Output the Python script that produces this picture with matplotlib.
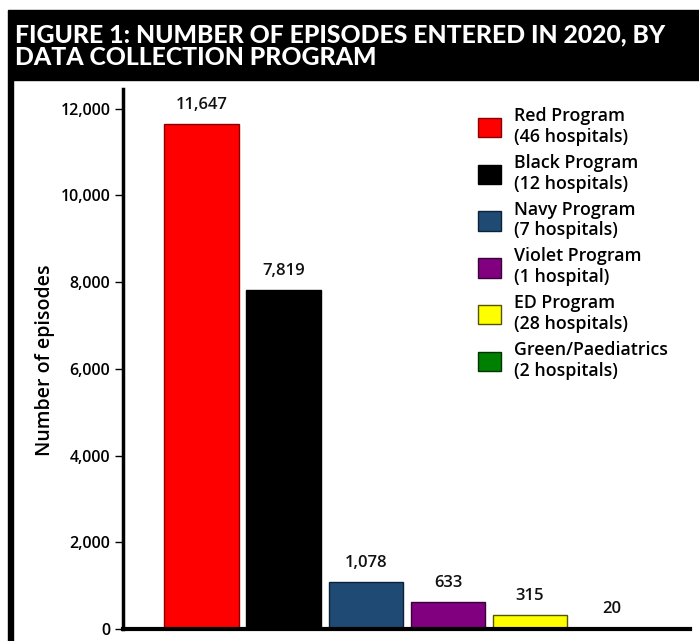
import matplotlib.pyplot as plt
from matplotlib.patches import Rectangle, Patch

programs = ['Red Program', 'Black Program', 'Navy Program', 'Violet Program',
            'ED Program', 'Green/Paediatrics']
hospitals = ['(46 hospitals)', '(12 hospitals)', '(7 hospitals)', '(1 hospital)',
             '(28 hospitals)', '(2 hospitals)']
episodes = [11647, 7819, 1078, 633, 315, 20]
colors = ['#ff0000', '#000000', '#1f4a73', '#800080', '#ffff00', '#008000']
edges = ['#8b0000', '#000000', '#0d2238', '#3a003a', '#555500', '#003300']

plt.rcParams['font.family'] = ['Open Sans', 'DejaVu Sans']
plt.rcParams['font.weight'] = 'semibold'

fig = plt.figure(figsize=(6.99, 6.41), dpi=100)

# title banner and left border
fig.patches.append(Rectangle((8 / 699, 1 - 80 / 641), 1, 70 / 641,
                             transform=fig.transFigure, color='black', zorder=0))
fig.patches.append(Rectangle((8 / 699, 0), 5 / 699, 1 - 80 / 641,
                             transform=fig.transFigure, color='black', zorder=0))
fig.text(15 / 699, 1 - 46 / 641, 'FIGURE 1: NUMBER OF EPISODES ENTERED IN 2020, BY\nDATA COLLECTION PROGRAM',
         color='white', fontsize=17.8, fontweight='black', family=['Lato', 'DejaVu Sans'],
         va='center', ha='left', linespacing=0.95)

ax = fig.add_axes([123 / 699, 12 / 641, (690 - 123) / 699, (629 - 89) / 641])
x = list(range(len(episodes)))
bars = ax.bar(x, episodes, width=0.91, color=colors, edgecolor=edges, linewidth=1)

for xi, v in zip(x, episodes):
    ax.text(xi, v + 250, f'{v:,}', ha='center', va='bottom', fontsize=12, color='#111111')

ax.set_xlim(-0.96, 5.95)
ax.set_ylim(0, 12450)
ax.set_yticks(range(0, 12001, 2000))
ax.set_yticklabels([f'{t:,}' for t in range(0, 12001, 2000)], fontsize=11.5)
ax.set_xticks([])
ax.tick_params(axis='y', length=6, width=1, pad=3)
for side in ['top', 'right']:
    ax.spines[side].set_visible(False)
ax.spines['left'].set_linewidth(2.5)
ax.spines['bottom'].set_linewidth(3)
fig.text(45 / 699, 1 - 360 / 641, 'Number of episodes', rotation=90,
         ha='center', va='center', fontsize=14)

handles = [Patch(facecolor=c, edgecolor=e, linewidth=1) for c, e in zip(colors, edges)]
labels = [f'{p}\n{h}' for p, h in zip(programs, hospitals)]
fig.legend(handles, labels, loc='upper left', bbox_to_anchor=(478 / 699, 1 - 107 / 641),
           frameon=False, fontsize=12.8, handlelength=1.3, handleheight=1.3,
           handletextpad=0.7, labelspacing=0.45, borderpad=0, borderaxespad=0)

plt.savefig('out.png', dpi=100)
